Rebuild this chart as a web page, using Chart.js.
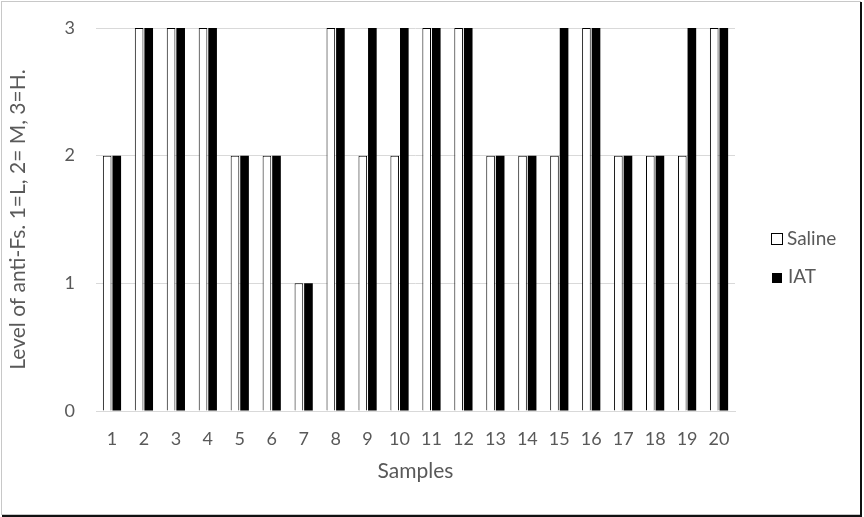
<!DOCTYPE html>
<html><head><meta charset="utf-8">
<script src="https://cdn.jsdelivr.net/npm/chart.js@4"></script>
<style>html,body{margin:0;padding:0;background:#fff}#wrap{width:864px;height:517px}</style>
</head><body><div id="wrap"><canvas id="c" width="864" height="517"></canvas></div>
<script>
const categories = ["1","2","3","4","5","6","7","8","9","10","11","12","13","14","15","16","17","18","19","20"];
const salineValues = [2,3,3,3,2,2,1,3,2,2,3,3,2,2,2,3,2,2,2,3];
const iatValues    = [2,3,3,3,2,2,1,3,3,3,3,3,2,2,3,3,2,2,3,3];
const yTicks = [0,1,2,3];
const seriesNames = ["Saline","IAT"];
const FONT = "Lato, 'Open Sans', sans-serif";
const GREY = "#595959";

const legendAndFrame = {
  id: 'legendAndFrame',
  afterDraw(chart) {
    const ctx = chart.ctx;
    ctx.save();
    ctx.font = "19px " + FONT;
    ctx.textBaseline = "middle";
    ctx.textAlign = "left";
    // Saline
    ctx.fillStyle = "#fff";
    ctx.fillRect(771.5, 233.5, 11, 11);
    ctx.strokeStyle = "#000"; ctx.lineWidth = 1;
    ctx.strokeRect(771.5, 233.5, 11, 11);
    ctx.fillStyle = GREY;
    ctx.fillText(chart.data.datasets[0].label, 787, 239);
    // IAT
    ctx.fillStyle = "#000";
    ctx.fillRect(772, 273, 10, 10);
    ctx.fillStyle = GREY;
    ctx.fillText(chart.data.datasets[1].label, 788, 277);
    // frame
    ctx.strokeStyle = "#c8c8c8"; ctx.lineWidth = 1;
    ctx.strokeRect(1.5, 1.5, 859, 513);
    ctx.strokeStyle = "#111"; ctx.lineWidth = 2;
    ctx.beginPath(); ctx.moveTo(861, 2); ctx.lineTo(861, 516); ctx.lineTo(2, 516); ctx.stroke();
    ctx.restore();
  }
};

new Chart(document.getElementById('c'), {
  type: 'bar',
  data: {
    labels: categories,
    datasets: [
      { label: seriesNames[0], data: salineValues, backgroundColor: "#ffffff", borderColor: "#000000", borderWidth: 1, barPercentage: 0.9, categoryPercentage: 0.6 },
      { label: seriesNames[1], data: iatValues, backgroundColor: "#000000", borderColor: "#000000", borderWidth: 0, barPercentage: 0.9, categoryPercentage: 0.6 }
    ]
  },
  options: {
    responsive: false,
    animation: false,
    layout: { padding: { top: 28, right: 129, bottom: 0, left: 0 } },
    plugins: { legend: { display: false }, tooltip: { enabled: false } },
    scales: {
      x: {
        grid: { display: false, drawTicks: false },
        border: { display: true, color: "#d9d9d9", width: 1 },
        ticks: { color: GREY, font: { family: FONT, size: 18 }, padding: 17, maxRotation: 0 },
        title: { display: true, text: "Samples", color: GREY, font: { family: FONT, size: 21 }, padding: { top: 0, bottom: 33 } },
        afterFit(s) { s.height = 106; s.paddingLeft = 0; s.paddingRight = 0; }
      },
      y: {
        min: 0, max: 3,
        afterBuildTicks(s) { s.ticks = yTicks.map(v => ({ value: v })); },
        grid: { color: "#d9d9d9", drawTicks: false },
        border: { display: false },
        ticks: { color: GREY, font: { family: FONT, size: 18 }, padding: 21 },
        title: { display: true, text: "Level of anti-Fs. 1=L, 2= M, 3=H.", color: GREY, font: { family: FONT, size: 21 }, padding: { top: 6, bottom: 0 } },
        afterFit(s) { s.width = 96; s.paddingTop = 0; s.paddingBottom = 0; }
      }
    }
  },
  plugins: [legendAndFrame]
});
</script>
</body></html>
